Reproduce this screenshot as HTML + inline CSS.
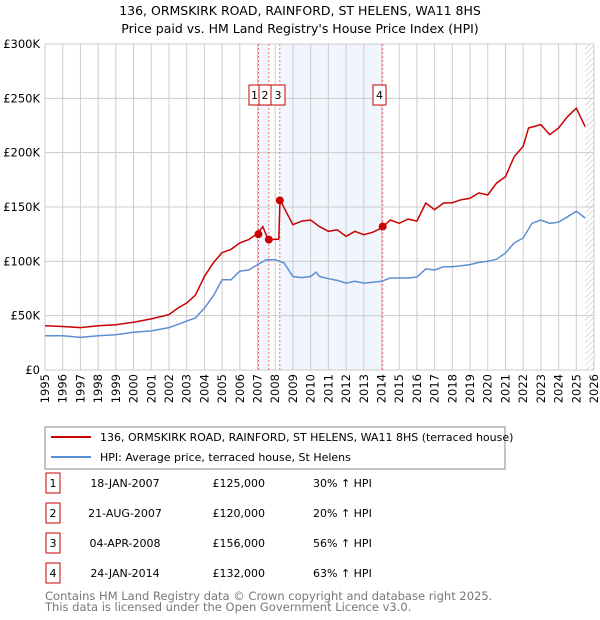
<!DOCTYPE html>
<html><head><meta charset="utf-8"><style>
body{margin:0;background:#fff;font-family:"DejaVu Sans","Liberation Sans",sans-serif;}
#wrap{position:relative;width:600px;height:620px;overflow:hidden}
</style></head><body><div id="wrap">
<svg id="svg" width="600" height="620" xmlns="http://www.w3.org/2000/svg">
<defs><pattern id="hatch" width="4" height="4" patternUnits="userSpaceOnUse" patternTransform="rotate(45)"><line x1="0" y1="0" x2="0" y2="4" stroke="#bbb" stroke-width="1"/></pattern></defs>
<text x="300" y="15" text-anchor="middle" font-size="12.5">136, ORMSKIRK ROAD, RAINFORD, ST HELENS, WA11 8HS</text>
<text x="300" y="33" text-anchor="middle" font-size="12.5">Price paid vs. HM Land Registry's House Price Index (HPI)</text>
<g id="plot"></g>
<rect x="45" y="427" width="460" height="42" fill="#fff" stroke="#888"/>
<g><line x1="51" y1="437" x2="91" y2="437" stroke="#cc0000" stroke-width="2"/><text x="100" y="441" font-size="11">136, ORMSKIRK ROAD, RAINFORD, ST HELENS, WA11 8HS (terraced house)</text></g>
<g><line x1="51" y1="457" x2="91" y2="457" stroke="#5b8fd4" stroke-width="2"/><text x="100" y="461" font-size="11">HPI: Average price, terraced house, St Helens</text></g>
<g id="table" font-size="11"></g>
<text x="45" y="600" font-size="11.5" fill="#777">Contains HM Land Registry data © Crown copyright and database right 2025.</text>
<text x="45" y="611" font-size="11.5" fill="#777">This data is licensed under the Open Government Licence v3.0.</text>
</svg></div>
<script>
const hpiYears=[1995,1996,1997,1998,1999,2000,2001,2002,2002.5,2003,2003.5,2004,2004.5,2005,2005.5,2006,2006.5,2007,2007.5,2008,2008.5,2009,2009.5,2010,2010.3,2010.5,2011,2011.5,2012,2012.5,2013,2013.5,2014,2014.5,2015,2015.5,2016,2016.5,2017,2017.5,2018,2018.5,2019,2019.5,2020,2020.5,2021,2021.5,2022,2022.5,2023,2023.5,2024,2024.5,2025,2025.5];
const hpiValues=[31.6,31.5,30,31.5,32.5,34.7,36,39,42,45,48,57,68,83,83,91,92,97,101.5,101.5,98.5,86,85,86,90,86,84,82.5,80,81.6,80,80.7,81.6,84.7,84.7,84.7,85.6,93,92,95,95,96,97,99,100,102,107.7,117,121.5,135,138,135,136,141,146,140];
const propYears=[1995,1996,1997,1998,1999,2000,2001,2002,2002.5,2003,2003.5,2004,2004.5,2005,2005.5,2006,2006.5,2007,2007.3,2007.6,2008.2,2008.27,2008.6,2009,2009.5,2010,2010.5,2011,2011.5,2012,2012.5,2013,2013.5,2014,2014.5,2015,2015.5,2016,2016.5,2017,2017.5,2018,2018.5,2019,2019.5,2020,2020.5,2021,2021.5,2022,2022.3,2023,2023.5,2024,2024.5,2025,2025.5];
const propValues=[40.8,40,39,40.8,41.7,44,47,51,57,61.7,69,86,98.5,108,111,117,120,125.5,132,120,120.5,156.7,146,133.7,137,138,132,127.6,129,123,127.6,124.5,126.7,130.7,138,135,139,137,153.7,147.5,153.7,154,156.7,158,163,161,172,178,196.6,205.8,222.7,225.8,216.6,222.7,233,241,224];
const saleLabels=["1","2","3","4"];
const saleDates=[2007.05,2007.64,2008.26,2014.07];
const saleValues=[125,120,156,132];
const saleDateText=["18-JAN-2007","21-AUG-2007","04-APR-2008","24-JAN-2014"];
const salePriceText=["£125,000","£120,000","£156,000","£132,000"];
const saleHpiText=["30% ↑ HPI","20% ↑ HPI","56% ↑ HPI","63% ↑ HPI"];
const yTicks=[0,50,100,150,200,250,300];
const yTickLabels=["£0","£50K","£100K","£150K","£200K","£250K","£300K"];
const xStart=1995,xEnd=2026;
const L=45,R=594,T=44,B=370;
const X=v=>L+(v-xStart)/(xEnd-xStart)*(R-L);
const Y=v=>B-v/300*(B-T);
const NS="http://www.w3.org/2000/svg";
const plot=document.getElementById('plot');
function mk(tag,attrs,parent){const e=document.createElementNS(NS,tag);for(const k in attrs)e.setAttribute(k,attrs[k]);(parent||plot).appendChild(e);return e;}
let e;
e=mk('rect',{x:L,y:T,width:R-L,height:B-T,fill:'#fff'});


e=mk('rect',{x:X(saleDates[0]),y:T,width:X(saleDates[1])-X(saleDates[0]),height:B-T,fill:'#f1f5fd'});


e=mk('rect',{x:X(saleDates[2]),y:T,width:X(saleDates[3])-X(saleDates[2]),height:B-T,fill:'#f1f5fd'});


e=mk('rect',{x:X(2025.5),y:T,width:R-X(2025.5),height:B-T,fill:'url(#hatch)'});


for(let yr=xStart;yr<=xEnd;yr++){
 e=mk('line',{x1:X(yr),x2:X(yr),y1:T,y2:B,stroke:'#ccc','stroke-width':1});
 
 
 e=mk('text',{x:0,y:0,'font-size':11.5,'text-anchor':'end',transform:`translate(${X(yr)+4},374) rotate(-90)`});
 e.textContent=yr;
 
 
}
yTicks.forEach((v,i)=>{
 e=mk('line',{x1:L,x2:R,y1:Y(v),y2:Y(v),stroke:'#ccc','stroke-width':1});
 
 
 e=mk('text',{x:L-5,y:Y(v)+4,'font-size':11.5,'text-anchor':'end'});
 e.textContent=yTickLabels[i];
 
 
});
saleDates.forEach((d,i)=>{
 e=mk('line',{x1:X(d),x2:X(d),y1:T,y2:B,stroke:'#e05050','stroke-width':0.8,'stroke-dasharray':'2,2'});
 
 
});
function pts(xs,ys){return xs.map((x,i)=>X(x).toFixed(1)+','+Y(ys[i]).toFixed(1)).join(' ');}
e=mk('polyline',{points:pts(hpiYears,hpiValues),fill:'none',stroke:'#5b8fd4','stroke-width':1.5});


e=mk('polyline',{points:pts(propYears,propValues),fill:'none',stroke:'#cc0000','stroke-width':1.5});


saleDates.forEach((d,i)=>{
 e=mk('circle',{cx:X(d),cy:Y(saleValues[i]),r:4,fill:'#cc0000'});
 
 
});
const boxX=[249,259,271,373],boxW=[11,12,14,13];
saleLabels.forEach((s,i)=>{
 e=mk('rect',{x:boxX[i],y:85,width:boxW[i],height:20,fill:'#fff',stroke:'#cc0000'});
 
 
 e=mk('text',{x:boxX[i]+boxW[i]/2,y:99,'font-size':11,'text-anchor':'middle'});
 e.textContent=s;
 
 
});
const tbl=document.getElementById('table');
saleLabels.forEach((s,i)=>{
 const cy=483+i*30;
 e=mk('rect',{x:46,y:cy-10,width:14,height:20,fill:'#fff',stroke:'#cc0000'},tbl);
 
 
 e=mk('text',{x:53,y:cy+4,'text-anchor':'middle'},tbl);e.textContent=s;
 
 
 e=mk('text',{x:125,y:cy+4,'text-anchor':'middle'},tbl);e.textContent=saleDateText[i];
 
 
 e=mk('text',{x:265,y:cy+4,'text-anchor':'end'},tbl);e.textContent=salePriceText[i];
 
 
 e=mk('text',{x:313,y:cy+4},tbl);e.textContent=saleHpiText[i];
 
 
});
</script></body></html>
